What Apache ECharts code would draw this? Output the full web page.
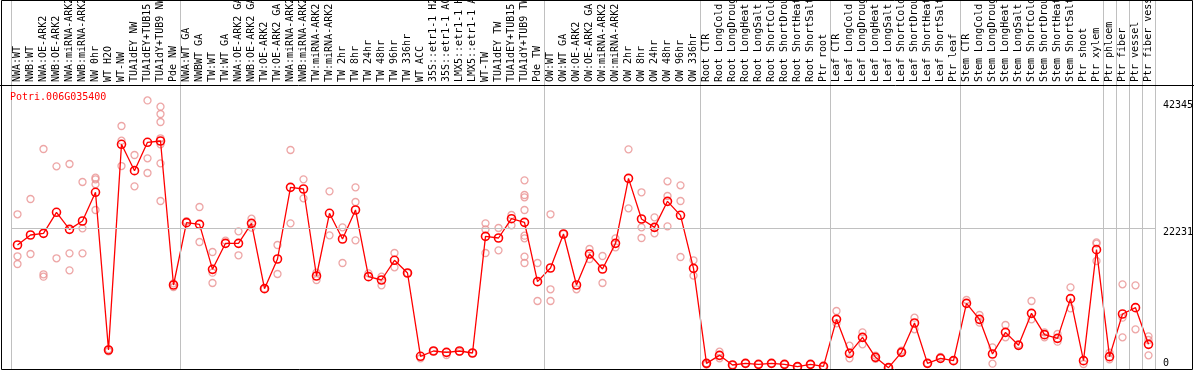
<!DOCTYPE html>
<html><head><meta charset="utf-8">
<script src="https://cdn.jsdelivr.net/npm/echarts@6/dist/echarts.min.js"></script>
<style>html,body{margin:0;padding:0;background:#fff}#c{width:1194px;height:370px}</style>
</head><body><div id="c"></div>
<script>
const geneName = 'Potri.006G035400';
const categories = [
 'NWA:WT','NWB:WT','NWA:OE-ARK2','NWB:OE-ARK2','NWA:miRNA-ARK2','NWB:miRNA-ARK2','NW 0hr','WT H2O','WT-NW','TUA1dEY NW','TUA1dEY+TUB15','TUA1dY+TUB9 NW','Pde NW',
 'NWA:WT GA','NWBWT GA','TW:WT','TW:WT GA','NWA:OE-ARK2 GA','NWB:OE-ARK2 GA','TW:OE-ARK2','TW:OE-ARK2 GA','NWA:miRNA-ARK2','NWB:miRNA-ARK2','TW:miRNA-ARK2','TW:miRNA-ARK2','TW 2hr','TW 8hr','TW 24hr','TW 48hr','TW 96hr','TW 336hr','WT ACC','35S::etr1-1 H2','35S::etr1-1 AC','LMX5::etr1-1 H','LMX5::etr1-1 A','WT-TW','TUA1dEY TW','TUA1dEY+TUB15','TUA1dY+TUB9 TW','Pde TW',
 'OW:WT','OW:WT GA','OW:OE-ARK2','OW:OE-ARK2 GA','OW:miRNA-ARK2','OW:miRNA-ARK2','OW 2hr','OW 8hr','OW 24hr','OW 48hr','OW 96hr','OW 336hr',
 'Root CTR','Root LongCold','Root LongDroug','Root LongHeat','Root LongSalt','Root ShortCold','Root ShortDrou','Root ShortHeat','Root ShortSalt','Ptr root',
 'Leaf CTR','Leaf LongCold','Leaf LongDroug','Leaf LongHeat','Leaf LongSalt','Leaf ShortCold','Leaf ShortDrou','Leaf ShortHeat','Leaf ShortSalt','Ptr leaf',
 'Stem CTR','Stem LongCold','Stem LongDroug','Stem LongHeat','Stem LongSalt','Stem ShortCold','Stem ShortDrou','Stem ShortHeat','Stem ShortSalt','Ptr shoot','Ptr xylem',
 'Ptr phloem','Ptr fiber','Ptr vessel','Ptr fiber vess'
];
const meanValues = [
 19551,21128,21390,24705,22020,23335,27860,2996,35429,31270,35744,35949,13244,
 23072,22808,15715,19814,19814,22965,12665,17344,28640,28380,14663,24547,20497,25070,14560,14032,17140,15136,2000,2838,2628,2838,2523,20918,20655,23700,23125,13770,
 15925,21285,13244,18132,15767,19814,30060,23650,22335,26436,24230,15872,
 894,2155,630,894,735,894,735,368,735,420,
 7830,2470,4993,1840,210,2628,7253,894,1680,1314,
 10354,7830,2365,5780,3732,8776,5414,4835,11090,1314,18815,
 1944,8672,9670,3890
];
const replicates = [
 [24390,17770,16556],[26804,18132],[34687,14930,14560],[31958,17455],[32322,18237,15560],[29484,22178,18237],[30165,29905,29117,25070],[2800,3100],[38314,36000,32000],[33742,28800],[42345,33217,30903],[41360,40206,38945,36373,35429,32427,26488],[13500,12900],
 [23300],[25543,20024],[18447,15190,13560],[20235],[21706,17927],[23700,22282],[12665],[19551,14979],[34530,22965],[29905,26910],[15190,14032],[28010,21075],[22335,16713],[28640,26331,20287],[15085],[14560,13191],[18290,16031],[15136],[1690],[2838],[2207],[2700],[2523],[22965,22000,18290],[22230,18710],[24282,22650],[29748,27434,27066,25070,21023,20602,17712,16713],[16713,10722],
 [24390,12566,10722],[21285],[12566],[18920,17344],[17817,13560],[20602,19184],[34635,25333],[27860,22335,20655],[23910,21390],[29590,27277,22493],[28955,26488,17659],[17140,14716],
 [894,700],[2733,1680],[630],[894],[735],[894],[735],[368],[735],[420],
 [9145,7200],[3680,1690],[5780,3890],[2100,1600],[210],[2628,2900],[8093,6253],[894],[1900],[1314],
 [10879],[8514,7305],[3416,841],[6937,4993],[3900],[10722,7830],[5780,5000],[5518,4310],[12880,9565],[788],[19972,19762,17028],
 [2576,1524],[13350,8093,4993],[13190,6253],[5150,4570,2155]
];
const groupBoundaries = [0,13,41,53,63,73,84,85,86,87,88];
const yTickLabels = [0,22231,42345];
const yMax = 58180;

const FONT = 'DejaVu Sans Mono';
const repData = [];
replicates.forEach((arr,i)=>arr.forEach(v=>repData.push([i,v])));

const chart = echarts.init(document.getElementById('c'), null, {renderer:'canvas'});
chart.setOption({
 animation:false,
 backgroundColor:'#fff',
 title:{text:geneName,left:10,top:92,padding:0,textStyle:{color:'#ff0000',fontFamily:FONT,fontSize:10,fontWeight:'normal'}},
 grid:{left:11,right:39,top:0,bottom:1,containLabel:false,outerBoundsMode:'none'},
 xAxis:[
  {type:'category',data:categories,position:'top',offset:-85,boundaryGap:true,
   axisLine:{show:false},axisTick:{show:false},splitLine:{show:false},
   axisLabel:{rotate:90,interval:0,margin:3,fontFamily:FONT,fontSize:10,color:'#000',hideOverlap:false}},
  {type:'value',min:0,max:categories.length,show:false}
 ],
 yAxis:{type:'value',min:0,max:yMax,position:'right',
  axisLine:{show:false},axisTick:{show:false},splitLine:{show:false},
  axisLabel:{customValues:yTickLabels,margin:8,fontFamily:FONT,fontSize:10,color:'#000',
   formatter:v=>v===0?'{z|0}':'{n|'+v+'}',
   rich:{n:{padding:[9,0,0,0],fontFamily:FONT,fontSize:10,color:'#000'},
         z:{padding:[0,0,12,0],fontFamily:FONT,fontSize:10,color:'#000'}}}},
 graphic:[
  {type:'rect',silent:true,z:100,shape:{x:1.5,y:0.5,width:1191,height:369},style:{fill:null,stroke:'#000',lineWidth:1}},
  {type:'line',silent:true,z:100,shape:{x1:0,y1:85.5,x2:1194,y2:85.5},style:{stroke:'#000',lineWidth:1}}
 ],
 series:[
  {type:'line',xAxisIndex:1,yAxisIndex:0,data:[],silent:true,
   markLine:{silent:true,symbol:['none','none'],animation:false,label:{show:false},
    lineStyle:{color:'#c0c0c0',width:1,type:'solid'},emphasis:{disabled:true},
    data:groupBoundaries.map(b=>({xAxis:b})).concat([{yAxis:22231}])}},
  {type:'scatter',data:repData,symbol:'circle',symbolSize:7,z:3,silent:true,
   itemStyle:{color:'rgba(0,0,0,0)',borderColor:'#e89090',borderWidth:1.3}},
  {type:'line',data:meanValues,z:4,symbol:'circle',symbolSize:8,showAllSymbol:true,silent:true,
   lineStyle:{color:'#ff0000',width:1.3},
   itemStyle:{color:'rgba(0,0,0,0)',borderColor:'#ff0000',borderWidth:1.6}}
 ]
});
</script></body></html>
